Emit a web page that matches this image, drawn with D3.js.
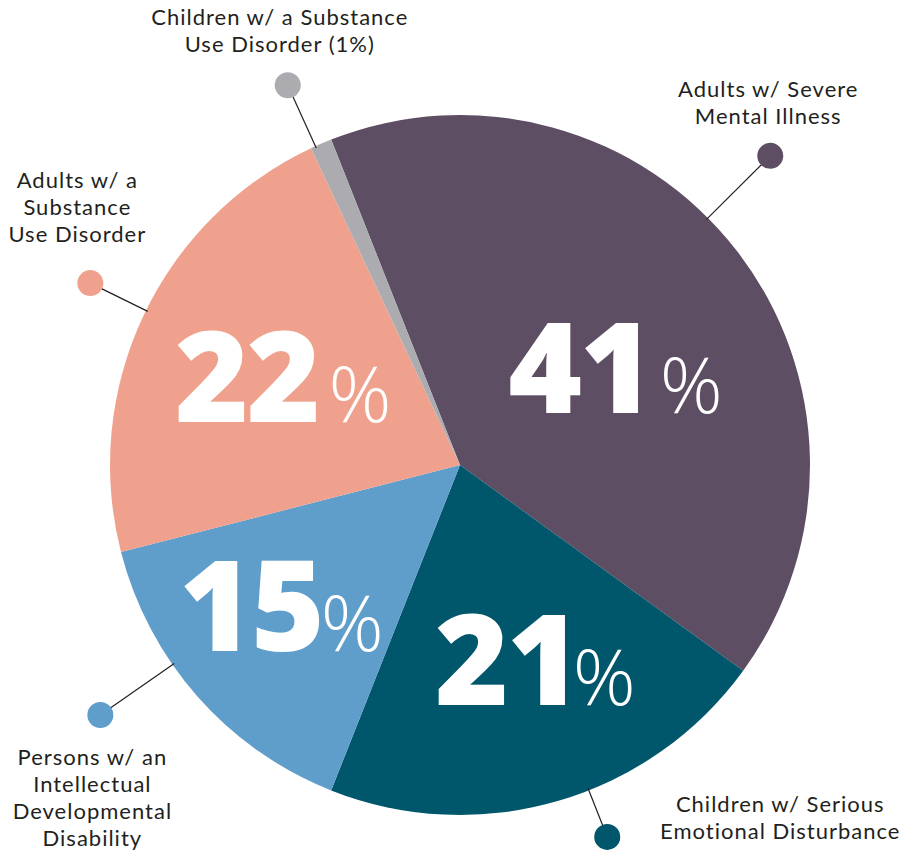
<!DOCTYPE html>
<html>
<head>
<meta charset="utf-8">
<script src="https://d3js.org/d3.v7.min.js"></script>
<style>
  body { margin: 0; background: #fff; }
  svg text { font-family: "Open Sans", "Noto Sans", sans-serif; }
  svg text.callout { font-family: "Lato", "Open Sans", sans-serif; }
</style>
</head>
<body>
<div id="chart"></div>
<script>
// slices in drawing order, clockwise from just left of 12 o'clock
var groups = ["Adults w/ Severe Mental Illness", "Children w/ Serious Emotional Disturbance",
              "Persons w/ an Intellectual Developmental Disability", "Adults w/ a Substance Use Disorder",
              "Children w/ a Substance Use Disorder (1%)"];
var shares = [41, 21, 15, 22, 1];
var colors = ["#5e4e63", "#00566b", "#5f9dca", "#efa18e", "#acacb0"];
var labelLines = [
  ["Adults w/ Severe", "Mental Illness"],
  ["Children w/ Serious", "Emotional Disturbance"],
  ["Persons w/ an", "Intellectual", "Developmental", "Disability"],
  ["Adults w/ a", "Substance", "Use Disorder"],
  ["Children w/ a Substance", "Use Disorder (1%)"]
];
var showBig = [true, true, true, true, false];

// layout
var width = 914, height = 852, cx = 460, cy = 465, radius = 350;
var startDeg = -21.6;
// angles in degrees clockwise from 12 o'clock
var place = [
  {numAng: 71.5,  numR: 164, gap: 8,  leadAng: 45.1,  dotR: 438, lx: -2,  ly: -59},
  {numAng: 162.6, numR: 252, gap: -6, leadAng: 158.4, dotR: 400, lx: 173, ly: -25},
  {numAng: 223.8, numR: 258, gap: -2, leadAng: 235.2, dotR: 438, lx: -8,  ly: 50},
  {numAng: 283.7, numR: 182, gap: 10, leadAng: 296.2, dotR: 412, lx: -13, ly: -95},
  {numAng: 0,     numR: 0,   gap: 0,  leadAng: 335.6, dotR: 417, lx: -8,  ly: -60}
];
var lineH = 27;

function polar(deg, r) {
  var a = deg * Math.PI / 180;
  return [r * Math.sin(a), -r * Math.cos(a)];
}

var svg = d3.select("#chart").append("svg")
    .attr("width", width)
    .attr("height", height);

var g = svg.append("g")
    .attr("transform", "translate(" + cx + "," + cy + ")");

var pie = d3.pie()
    .sort(null)
    .value(function(d) { return d; })
    .startAngle(startDeg * Math.PI / 180)
    .endAngle(startDeg * Math.PI / 180 + 2 * Math.PI);

var arc = d3.arc().innerRadius(0).outerRadius(radius);

var arcs = pie(shares);

g.selectAll("path.slice")
  .data(arcs)
  .enter().append("path")
    .attr("class", "slice")
    .attr("d", arc)
    .attr("fill", function(d, i) { return colors[i]; });

// leader lines, dots and the group names
arcs.forEach(function(d, i) {
  var p = place[i];
  var a = polar(p.leadAng, radius - 2), b = polar(p.leadAng, p.dotR);
  g.append("line")
    .attr("x1", a[0]).attr("y1", a[1])
    .attr("x2", b[0]).attr("y2", b[1])
    .attr("stroke", "#231f20")
    .attr("stroke-width", 1.2);
  g.append("circle")
    .attr("cx", b[0]).attr("cy", b[1])
    .attr("r", 13)
    .attr("fill", colors[i]);

  var t = g.append("text")
    .attr("class", "callout")
    .attr("text-anchor", "middle")
    .attr("fill", "#231f20")
    .attr("font-size", 22)
    .attr("letter-spacing", 1.0);
  labelLines[i].forEach(function(line, j) {
    t.append("tspan")
      .attr("x", b[0] + p.lx)
      .attr("y", b[1] + p.ly + j * lineH)
      .text(line);
  });
});

// big percentages
arcs.forEach(function(d, i) {
  if (!showBig[i]) return;
  var p = place[i], c = polar(p.numAng, p.numR);
  var t = g.append("text")
    .attr("x", c[0]).attr("y", c[1])
    .attr("text-anchor", "middle")
    .attr("fill", "#fff");
  t.append("tspan")
    .attr("font-size", 126)
    .attr("font-weight", 800)
    .attr("letter-spacing", -2)
    .text(shares[i]);
  t.append("tspan")
    .attr("dx", p.gap)
    .attr("font-size", 78)
    .attr("font-weight", 300)
    .text("%");
});
</script>
</body>
</html>
